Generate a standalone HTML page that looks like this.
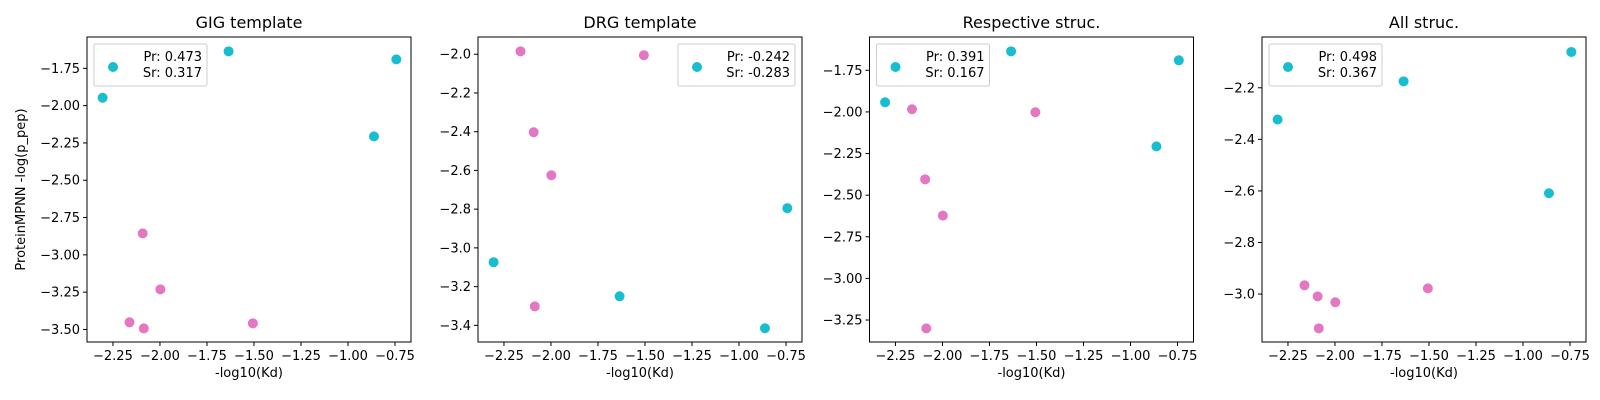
<!DOCTYPE html>
<html><head><meta charset="utf-8"><style>
body{margin:0;background:#fff;}
svg{display:block;font-family:"DejaVu Sans","Liberation Sans",sans-serif;}
</style></head><body>
<svg id="fig" width="1600" height="400" viewBox="0 0 1600 400"></svg>
<script>
const titles = ["GIG template","DRG template","Respective struc.","All struc."];
const cyanX = [-2.305,-1.635,-0.743,-0.862];
const pinkX = [-2.162,-2.092,-1.998,-2.086,-1.506];
const cyanY1 = [-1.947,-1.636,-1.690,-2.206];
const pinkY1 = [-3.452,-2.856,-3.231,-3.493,-3.459];
const cyanY2 = [-3.074,-3.250,-2.795,-3.415];
const pinkY2 = [-1.985,-2.403,-2.625,-3.302,-2.005];
const cyanY3 = [-1.942,-1.636,-1.690,-2.207];
const pinkY3 = [-1.984,-2.405,-2.623,-3.300,-2.002];
const cyanY4 = [-2.323,-2.175,-2.061,-2.609];
const pinkY4 = [-2.966,-3.009,-3.032,-3.133,-2.978];
const xTicks = [-2.25,-2.00,-1.75,-1.50,-1.25,-1.00,-0.75];
const xTickLabels = ["−2.25","−2.00","−1.75","−1.50","−1.25","−1.00","−0.75"];
const yTicks1 = [-1.75,-2.00,-2.25,-2.50,-2.75,-3.00,-3.25,-3.50];
const yTickLabels1 = ["−1.75","−2.00","−2.25","−2.50","−2.75","−3.00","−3.25","−3.50"];
const yTicks2 = [-2.0,-2.2,-2.4,-2.6,-2.8,-3.0,-3.2,-3.4];
const yTickLabels2 = ["−2.0","−2.2","−2.4","−2.6","−2.8","−3.0","−3.2","−3.4"];
const yTicks3 = [-1.75,-2.00,-2.25,-2.50,-2.75,-3.00,-3.25];
const yTickLabels3 = ["−1.75","−2.00","−2.25","−2.50","−2.75","−3.00","−3.25"];
const yTicks4 = [-2.2,-2.4,-2.6,-2.8,-3.0];
const yTickLabels4 = ["−2.2","−2.4","−2.6","−2.8","−3.0"];
const legendPr = ["Pr: 0.473","Pr: -0.242","Pr: 0.391","Pr: 0.498"];
const legendSr = ["Sr: 0.317","Sr: -0.283","Sr: 0.167","Sr: 0.367"];

const NS="http://www.w3.org/2000/svg";
const svg=document.getElementById('fig');
function mk(tag,attrs,parent){const e=document.createElementNS(NS,tag);for(const k in attrs)e.setAttribute(k,attrs[k]);(parent||svg).appendChild(e);return e;}

const panels=[
 {left:87,ylim:[-3.584,-1.540],cy:cyanY1,py:pinkY1,yt:yTicks1,yl:yTickLabels1,legRight:false},
 {left:478,ylim:[-3.486,-1.911],cy:cyanY2,py:pinkY2,yt:yTicks2,yl:yTickLabels2,legRight:true},
 {left:869.5,ylim:[-3.382,-1.550],cy:cyanY3,py:pinkY3,yt:yTicks3,yl:yTickLabels3,legRight:false},
 {left:1262,ylim:[-3.186,-2.003],cy:cyanY4,py:pinkY4,yt:yTicks4,yl:yTickLabels4,legRight:false}
];
const W=324,TOP=37,BOT=342,XLIM=[-2.388,-0.665];
panels.forEach((p,i)=>{
  const g=mk('g',{});
  
  
  const sx=v=>p.left+(v-XLIM[0])/(XLIM[1]-XLIM[0])*W;
  const sy=v=>BOT-(v-p.ylim[0])/(p.ylim[1]-p.ylim[0])*(BOT-TOP);
  // title
  const t=mk('text',{x:p.left+W/2,y:28,'text-anchor':'middle','font-size':16,fill:'#000'},g);
  t.textContent=titles[i];
  
  
  // x ticks
  xTicks.forEach((v,j)=>{
    const x=sx(v);
    mk('line',{x1:x,x2:x,y1:BOT,y2:BOT+4,stroke:'#000','stroke-width':1},g);
    const tl=mk('text',{x:x,y:BOT+18,'text-anchor':'middle','font-size':13,fill:'#000'},g);
    tl.textContent=xTickLabels[j];
    
    
  });
  p.yt.forEach((v,j)=>{
    const y=sy(v);
    mk('line',{x1:p.left-4,x2:p.left,y1:y,y2:y,stroke:'#000','stroke-width':1},g);
    const tl=mk('text',{x:p.left-7,y:y+4.5,'text-anchor':'end','font-size':13,fill:'#000'},g);
    tl.textContent=p.yl[j];
    
    
  });
  const xl=mk('text',{x:p.left+W/2,y:377,'text-anchor':'middle','font-size':13,fill:'#000'},g);
  xl.textContent='-log10(Kd)';
  
  
  // points
  cyanX.forEach((v,j)=>{
    const c=mk('circle',{cx:sx(v),cy:sy(p.cy[j]),r:5,fill:'#17becf'},g);
    
    
  });
  pinkX.forEach((v,j)=>{
    const c=mk('circle',{cx:sx(v),cy:sy(p.py[j]),r:5,fill:'#e377c2'},g);
    
    
  });
  // frame
  const fr=mk('rect',{x:p.left,y:TOP,width:W,height:BOT-TOP,fill:'none',stroke:'#000','stroke-width':1},g);
  
  
  // legend
  const lw=p.legRight?117:113;
  const lx=p.legRight?p.left+W-7-lw:p.left+7;
  const lg=mk('g',{},g);
  
  
  mk('rect',{x:lx,y:44,width:lw,height:42,rx:2,fill:'#fff','fill-opacity':0.8,stroke:'#ccc','stroke-width':1},lg);
  mk('circle',{cx:lx+19,cy:67,r:5,fill:'#17becf'},lg);
  const t1=mk('text',{x:lx+lw-5,y:61,'text-anchor':'end','font-size':13,fill:'#000'},lg);
  t1.textContent=legendPr[i];
  const t2=mk('text',{x:lx+lw-5,y:77,'text-anchor':'end','font-size':13,fill:'#000'},lg);
  t2.textContent=legendSr[i];
});
const yl=mk('text',{x:0,y:0,'text-anchor':'middle','font-size':13,fill:'#000',transform:'translate(25,189.5) rotate(-90)'});
yl.textContent='ProteinMPNN -log(p_pep)';


</script>
</body></html>
